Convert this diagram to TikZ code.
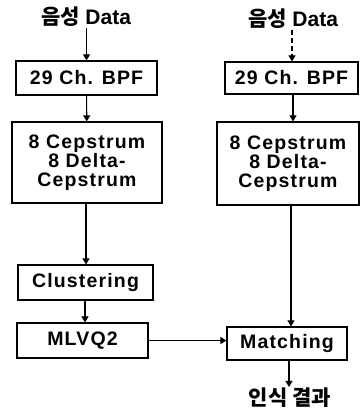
\documentclass[tikz,border=0pt]{standalone}
\usepackage{fontspec}
\setmainfont{Liberation Sans}
\newfontfamily\kr{Noto Sans CJK KR}
\newfontfamily\boxfont{Liberation Sans}[LetterSpace=6]
\usetikzlibrary{arrows.meta}
\tikzset{
  box/.style={draw, line width=1.2pt, rectangle, inner sep=0pt, align=center,
    font=\boxfont\fontsize{19.5}{19}\selectfont\bfseries},
  lbl/.style={inner sep=1pt, font=\fontsize{21}{22}\selectfont\bfseries},
  conn/.style={line width=1.1pt, -{Triangle[length=6pt,width=7pt]}},
}
\begin{document}
\begin{tikzpicture}[x=1pt,y=-1pt]
\useasboundingbox (0,0) rectangle (360,416);
% left column
\node[lbl] (dataL) at (86,17) {{\kr 음성} Data};
\node[box, minimum width=141pt, minimum height=34pt] (bpfL) at (86.5,78) {29 Ch. BPF};
\node[box, minimum width=150pt, minimum height=81pt] (cepL) at (87,162.5) {8 Cepstrum\\8 Delta-\\Cepstrum};
\node[box, minimum width=135pt, minimum height=35pt] (clus) at (85.5,282.5) {Clustering};
\node[box, minimum width=131pt, minimum height=35pt] (mlvq) at (82.5,340.5) {MLVQ2};
% right column
\node[lbl] (dataR) at (293,19) {{\kr 음성} Data};
\node[box, minimum width=133pt, minimum height=32pt] (bpfR) at (291.5,78) {29 Ch. BPF};
\node[box, minimum width=142pt, minimum height=83pt] (cepR) at (288,163.5) {8 Cepstrum\\8 Delta-\\Cepstrum};
\node[box, minimum width=120pt, minimum height=33pt] (match) at (287,343.5) {Matching};
\node[lbl] (result) at (290,398) {\kr 인식 결과};
% connectors
\draw[conn] (dataL.south -| bpfL.north) -- (bpfL.north);
\draw[conn] (bpfL) -- (cepL);
\draw[conn] (cepL.south -| 86,0) -- (clus.north -| 86,0);
\draw[conn] (clus.south -| 85,0) -- (mlvq.north -| 85,0);
\draw[conn] (mlvq.east) -- (mlvq.east -| match.west);
\draw[conn, dash pattern=on 5pt off 3pt] (dataR.south -| 292,0) -- (bpfR.north -| 292,0);
\draw[conn] (bpfR.south -| 293,0) -- (cepR.north -| 293,0);
\draw[conn] (cepR.south -| 291,0) -- (match.north -| 291,0);
\draw[conn] (match.south -| 289,0) -- (result.north -| 289,0);
\end{tikzpicture}
\end{document}
